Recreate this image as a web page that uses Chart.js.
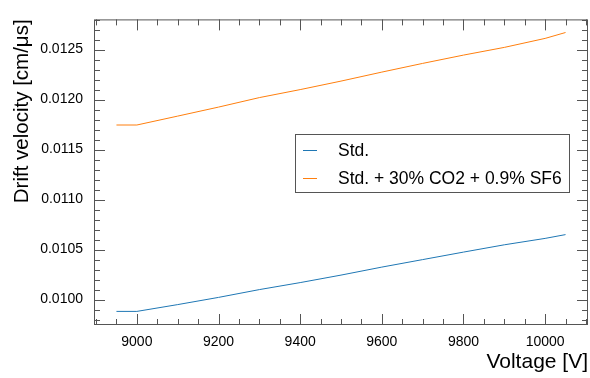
<!DOCTYPE html>
<html>
<head>
<meta charset="utf-8">
<script src="https://cdn.jsdelivr.net/npm/chart.js@4"></script>
<style>
  html, body { margin: 0; padding: 0; background: #fff; }
  #wrap { width: 590px; height: 378px; }
</style>
</head>
<body>
<div id="wrap"><canvas id="driftChart"></canvas></div>
<script>
// drift velocity vs. chamber voltage for the two gas mixtures
const voltages = [8950, 9000, 9100, 9200, 9300, 9400, 9500, 9600, 9700, 9800, 9900, 10000, 10050];
const driftStd = [0.009882, 0.009882, 0.009950, 0.010022, 0.010100, 0.010170, 0.010245,
                  0.010325, 0.010400, 0.010475, 0.010548, 0.010612, 0.010650];
const driftMix = [0.011746, 0.011746, 0.011835, 0.011925, 0.012020, 0.012100, 0.012185,
                  0.012275, 0.012362, 0.012445, 0.012522, 0.012612, 0.012671];
const seriesNames = ['Std.', 'Std. + 30% CO2 + 0.9% SF6'];
const xTicks = [9000, 9200, 9400, 9600, 9800, 10000];
const yTicks = [0.0100, 0.0105, 0.0110, 0.0115, 0.0120, 0.0125];

const FONT = 'Liberation Sans, Arial, Helvetica, sans-serif';
const FRAME = '#555555';

// ROOT-style frame: box around the pad with inward ticks on all four sides
const frameTicks = {
  id: 'frameTicks',
  afterDraw(chart) {
    const { ctx, chartArea: a, scales: { x, y } } = chart;
    ctx.save();
    ctx.strokeStyle = FRAME;
    ctx.lineWidth = 1;
    ctx.strokeRect(a.left + 0.5, a.top + 0.5, a.right - a.left - 1, a.bottom - a.top - 1);

    ctx.beginPath();
    for (let i = Math.ceil(x.min / 50); i * 50 <= x.max; i++) {
      const px = Math.round(x.getPixelForValue(i * 50)) + 0.5;
      const len = (i % 4 === 0) ? 11 : 6;
      ctx.moveTo(px, a.bottom); ctx.lineTo(px, a.bottom - len);
      ctx.moveTo(px, a.top); ctx.lineTo(px, a.top + len);
    }
    for (let i = Math.ceil(y.min / 1e-4); i * 1e-4 <= y.max; i++) {
      const py = Math.round(y.getPixelForValue(i * 1e-4)) + 0.5;
      const len = (i % 5 === 0) ? 11 : 6;
      ctx.moveTo(a.left, py); ctx.lineTo(a.left + len, py);
      ctx.moveTo(a.right, py); ctx.lineTo(a.right - len, py);
    }
    ctx.stroke();

    // legend box
    const bx = 295.5, by = 134.5, bw = 274, bh = 58;
    ctx.fillStyle = '#ffffff';
    ctx.fillRect(bx, by, bw, bh);
    ctx.strokeStyle = FRAME;
    ctx.strokeRect(bx, by, bw, bh);
    const rows = [150, 178];
    chart.data.datasets.forEach((ds, i) => {
      ctx.strokeStyle = ds.borderColor;
      ctx.beginPath();
      ctx.moveTo(303, rows[i] + 0.5);
      ctx.lineTo(317, rows[i] + 0.5);
      ctx.stroke();
      ctx.fillStyle = '#000';
      ctx.font = '17.5px ' + FONT;
      ctx.textBaseline = 'middle';
      ctx.textAlign = 'left';
      ctx.fillText(ds.label, 338, rows[i] + 1);
    });
    ctx.restore();
  }
};

new Chart(document.getElementById('driftChart'), {
  type: 'line',
  data: {
    datasets: [
      {
        label: seriesNames[0],
        data: voltages.map((v, i) => ({ x: v, y: driftStd[i] })),
        borderColor: '#1f77b4',
        borderWidth: 1,
        pointRadius: 0,
        tension: 0
      },
      {
        label: seriesNames[1],
        data: voltages.map((v, i) => ({ x: v, y: driftMix[i] })),
        borderColor: '#ff7f0e',
        borderWidth: 1,
        pointRadius: 0,
        tension: 0
      }
    ]
  },
  options: {
    responsive: true,
    maintainAspectRatio: false,
    animation: false,
    layout: { padding: { top: 4, right: 2, left: 0, bottom: 0 } },
    plugins: {
      legend: { display: false },
      tooltip: { enabled: false }
    },
    scales: {
      x: {
        type: 'linear',
        min: 8895,
        max: 10105,
        afterBuildTicks: (scale) => { scale.ticks = xTicks.map(v => ({ value: v })); },
        afterFit: (scale) => { scale.height = 53; },
        grid: { display: false, drawTicks: false },
        border: { display: false },
        ticks: {
          padding: 9,
          color: '#000',
          font: { family: FONT, size: 14 },
          maxRotation: 0,
          callback: (v) => String(v)
        },
        title: {
          display: true,
          text: 'Voltage [V]',
          align: 'end',
          color: '#000',
          font: { family: FONT, size: 21 },
          padding: { top: 0, bottom: 3 }
        }
      },
      y: {
        type: 'linear',
        min: 0.009746,
        max: 0.012802,
        afterBuildTicks: (scale) => { scale.ticks = yTicks.map(v => ({ value: v })); },
        afterFit: (scale) => { scale.width = 94; },
        grid: { display: false, drawTicks: false },
        border: { display: false },
        ticks: {
          padding: 11,
          color: '#000',
          font: { family: FONT, size: 14 },
          callback: (v) => v.toFixed(4)
        },
        title: {
          display: true,
          text: 'Drift velocity [cm/μs]',
          align: 'end',
          color: '#000',
          font: { family: FONT, size: 20.5 },
          padding: { top: 10, bottom: 0 }
        }
      }
    }
  },
  plugins: [frameTicks]
});
</script>
</body>
</html>
